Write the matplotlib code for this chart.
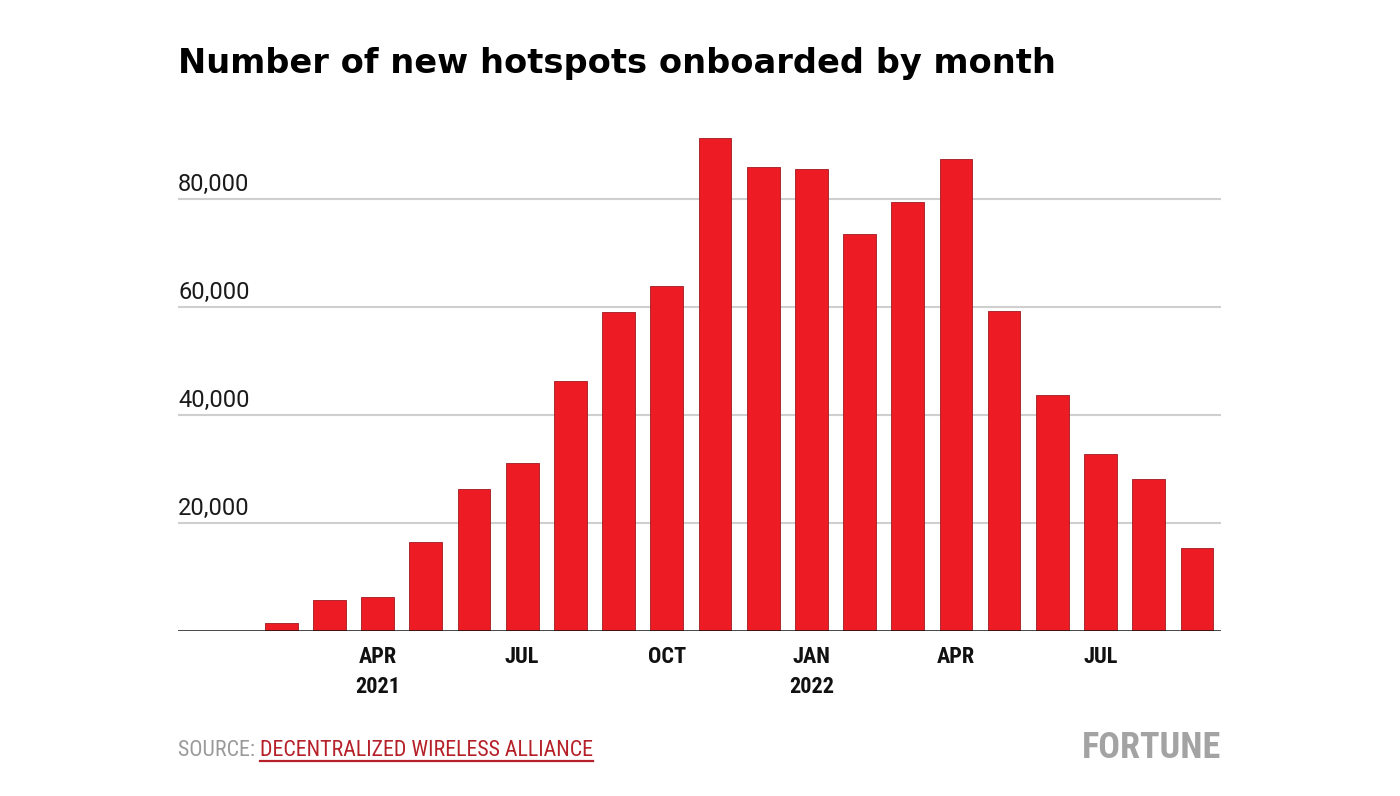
import numpy as np
import matplotlib.pyplot as plt
from matplotlib import font_manager as fm
import matplotlib.transforms as mtransforms

# monthly onboarded hotspots, Feb 2021 - Sep 2022
months = ["FEB", "MAR", "APR", "MAY", "JUN", "JUL", "AUG", "SEP", "OCT", "NOV", "DEC",
          "JAN", "FEB", "MAR", "APR", "MAY", "JUN", "JUL", "AUG", "SEP"]
years = [2021] * 11 + [2022] * 9
hotspots = [1500, 5700, 6300, 16500, 26300, 31100, 46300, 59100, 63900, 91300, 85900,
            85600, 73500, 79400, 87400, 59300, 43700, 32800, 28100, 15400]
labeled = {"APR": "APR", "JUL": "JUL", "OCT": "OCT", "JAN": "JAN"}
year_marks = {(2021, "APR"): "2021", (2022, "JAN"): "2022"}
yticks = [20000, 40000, 60000, 80000]

installed = {f.name for f in fm.fontManager.ttflist}


def pick(*names):
    for n in names:
        if n in installed:
            return n
    return "DejaVu Sans"


narrow = pick("Liberation Sans Narrow", "DejaVu Sans Condensed", "Roboto Condensed", "Open Sans Condensed")
title_font = "DejaVu Sans"
light_font = pick("Roboto", "Lato", "Open Sans", "DejaVu Sans")

RED = "#ED1C24"

fig = plt.figure(figsize=(14, 7.96), dpi=100)
ax = fig.add_axes([178 / 1400, 1 - 631 / 796, (1221 - 178) / 1400, 501 / 796])

x = np.arange(len(hotspots))
ax.bar(x, hotspots, width=0.68, color=RED, edgecolor="#9E1A1F", linewidth=0.6, zorder=3)

ax.set_xlim(-2.14, len(hotspots) - 0.5)
ax.set_ylim(0, 501 / 5.4 * 1000)

for v in yticks:
    ax.axhline(v, color="#CFCFCF", linewidth=1.5, zorder=1)
ax.axhline(0, color="#111111", linewidth=1.8, zorder=4)

trans = mtransforms.blended_transform_factory(ax.transAxes, ax.transData)
for v in yticks:
    ax.text(0, v + 500, f"{v:,}", transform=trans, ha="left", va="bottom",
            fontsize=17, family=light_font, fontweight="normal", color="#1A1A1A")

pos, labs = [], []
for i, (m, yr) in enumerate(zip(months, years)):
    if m in labeled:
        pos.append(i)
        yl = year_marks.get((yr, m))
        labs.append(m + ("\n" + yl if yl else ""))
ax.set_xticks(pos)
ax.set_xticklabels(labs, fontsize=16, family=narrow, fontweight="bold", linespacing=1.45,
                   va="top", color="#111111")
ax.tick_params(axis="x", length=0, pad=11)
ax.set_yticks([])
for s in ax.spines.values():
    s.set_visible(False)

fig.text(178 / 1400, 1 - 63 / 796, "Number of new hotspots onboarded by month",
         fontsize=24.2, family=title_font, fontweight="bold", color="#000000",
         ha="left", va="center")

src1 = fig.text(178 / 1400, 1 - 750 / 796, "SOURCE: ", fontsize=15.8, family=narrow,
                color="#9A9A9A", ha="left", va="center")
fig.canvas.draw()
r = fig.canvas.get_renderer()
bb = src1.get_window_extent(r)
src2 = fig.text(bb.x1 / 1400, 1 - 750 / 796, "DECENTRALIZED WIRELESS ALLIANCE", fontsize=15.8,
                family=narrow, color="#B52029", ha="left", va="center")
fig.canvas.draw()
bb2 = src2.get_window_extent(r)
fig.add_artist(plt.Line2D([bb2.x0 / 1400, bb2.x1 / 1400], [1 - 761 / 796, 1 - 761 / 796],
                          transform=fig.transFigure, color="#B52029", linewidth=1.6))

fig.text(1221 / 1400, 1 - 748 / 796, "FORTUNE", fontsize=26, family=narrow, fontweight="bold",
         color="#A3A3A3", ha="right", va="center")

fig.savefig("out.png", dpi=100)
